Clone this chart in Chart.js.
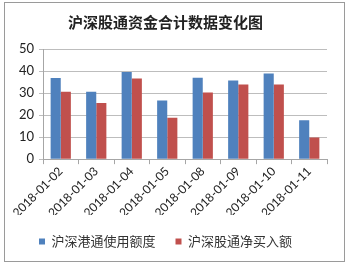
<!DOCTYPE html>
<html>
<head>
<meta charset="utf-8">
<script src="https://cdn.jsdelivr.net/npm/chart.js@4/dist/chart.umd.min.js"></script>
<style>
  html, body { margin: 0; padding: 0; background: #fff; }
  #wrap { width: 347px; height: 268px; position: relative; }
</style>
</head>
<body>
<div id="wrap"><canvas id="chart"></canvas></div>
<script>
const categories = ['2018-01-02', '2018-01-03', '2018-01-04', '2018-01-05', '2018-01-08', '2018-01-09', '2018-01-10', '2018-01-11'];
const hkConnectUsed = [36.8, 30.6, 39.6, 26.6, 36.9, 35.7, 38.9, 17.6];
const northboundNetBuy = [30.6, 25.5, 36.6, 18.8, 30.3, 33.9, 33.9, 9.8];
const seriesNames = ['沪深港通使用额度', '沪深股通净买入额'];
const yMin = 0, yMax = 50, yStep = 10;

// grey frame round the whole chart, like the Excel chart border
const frame = {
  id: 'frame',
  afterDraw(chart) {
    const ctx = chart.ctx;
    ctx.save();
    ctx.strokeStyle = '#9a9a9a';
    ctx.lineWidth = 1;
    ctx.strokeRect(4.5, 2.5, 340, 259);
    ctx.restore();
  }
};

new Chart(document.getElementById('chart'), {
  type: 'bar',
  data: {
    labels: categories,
    datasets: [{
      label: seriesNames[0],
      data: hkConnectUsed,
      backgroundColor: '#4F81BD',
      barPercentage: 1,
      categoryPercentage: 0.57
    }, {
      label: seriesNames[1],
      data: northboundNetBuy,
      backgroundColor: '#C0504D',
      barPercentage: 1,
      categoryPercentage: 0.57
    }]
  },
  options: {
    responsive: true,
    maintainAspectRatio: false,
    animation: false,
    layout: { padding: { left: 4, right: 20, top: 0, bottom: 10 } },
    plugins: {
      title: {
        display: true,
        text: '沪深股通资金合计数据变化图',
        color: '#222',
        font: { family: '"Noto Sans CJK SC"', size: 15, weight: 'bold' },
        padding: { top: 13, bottom: 18 }
      },
      legend: {
        position: 'bottom',
        labels: {
          boxWidth: 6,
          boxHeight: 6,
          padding: 20,
          color: '#333',
          font: { family: '"Noto Sans CJK SC"', size: 13 }
        }
      },
      tooltip: { enabled: false }
    },
    scales: {
      x: {
        afterFit(scale) { scale.height -= 5; },
        grid: { drawOnChartArea: false, drawTicks: true, tickLength: 5, color: '#a6a6a6' },
        border: { color: '#a6a6a6' },
        ticks: {
          minRotation: 45,
          maxRotation: 45,
          color: '#222',
          padding: 0,
          font: { family: 'Lato', size: 12 }
        }
      },
      y: {
        min: yMin,
        max: yMax,
        afterFit(scale) { scale.width = 39; },
        grid: { color: '#bdbdbd', tickLength: 4 },
        border: { color: '#a6a6a6' },
        ticks: {
          stepSize: yStep,
          color: '#222',
          padding: 5,
          font: { family: 'Lato', size: 13 }
        }
      }
    }
  },
  plugins: [frame]
});
</script>
</body>
</html>
